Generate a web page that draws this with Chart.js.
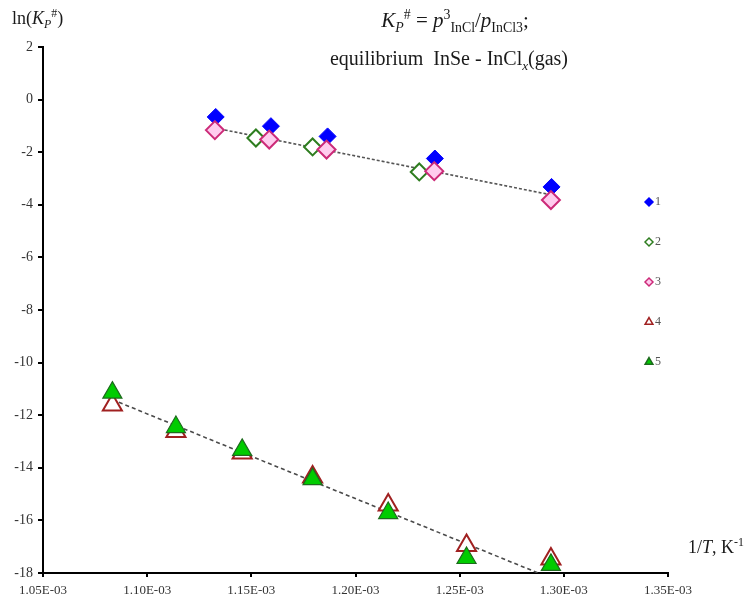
<!DOCTYPE html>
<html>
<head>
<meta charset="utf-8">
<script src="https://cdn.jsdelivr.net/npm/chart.js@4.4.1/dist/chart.umd.min.js"></script>
<style>
html, body { margin: 0; padding: 0; background: #fff; }
#wrap { width: 756px; height: 594px; position: relative; }
</style>
</head>
<body>
<div id="wrap"><canvas id="chart"></canvas></div>
<script>
// 1/T values (K^-1) and ln(Kp#)
const s1x = [1.1329e-3, 1.1594e-3, 1.1866e-3, 1.2381e-3, 1.2941e-3];
const s1y = [-0.66, -1.01, -1.40, -2.24, -3.32];
const s2x = [1.1522e-3, 1.1794e-3, 1.2306e-3];
const s2y = [-1.46, -1.80, -2.75];
const s3x = [1.1325e-3, 1.1586e-3, 1.1861e-3, 1.2378e-3, 1.2938e-3];
const s3y = [-1.16, -1.52, -1.90, -2.72, -3.82];
const s4x = [1.0833e-3, 1.1138e-3, 1.1456e-3, 1.1794e-3, 1.2157e-3, 1.2533e-3, 1.2938e-3];
const s4y = [-11.61, -12.62, -13.44, -14.35, -15.41, -16.95, -17.47];
const s5x = [1.0833e-3, 1.1138e-3, 1.1456e-3, 1.1794e-3, 1.2157e-3, 1.2533e-3, 1.2938e-3];
const s5y = [-11.14, -12.45, -13.32, -14.43, -15.72, -17.43, -17.69];
// dotted trend lines
const fit1x = [1.1325e-3, 1.2938e-3];
const fit1y = [-1.08, -3.62];
const fit2x = [1.0833e-3, 1.2877e-3];
const fit2y = [-11.41, -18.0];

const seriesNames = ['1', '2', '3', '4', '5'];
const xMin = 1.05e-3, xMax = 1.35e-3, xStep = 0.05e-3;
const yMin = -18, yMax = 2, yStep = 2;

const pts = (xs, ys) => xs.map((x, i) => ({ x: x, y: ys[i] }));

function fmtE(v) {
  const parts = v.toExponential(2).split('e');
  const n = parseInt(parts[1], 10);
  return parts[0] + 'E' + (n < 0 ? '-' : '+') + String(Math.abs(n)).padStart(2, '0');
}

const styles = [
  { pointStyle: 'rectRot', radius: 8.5, bg: '#0000ff', border: '#0000ff', bw: 1, order: 4 },
  { pointStyle: 'rectRot', radius: 8.5, bg: '#ffffff', border: '#2e7d1f', bw: 2, order: 3 },
  { pointStyle: 'rectRot', radius: 9, bg: '#ffccee', border: '#cc2a78', bw: 2, order: 1 },
  { pointStyle: 'triangle', radius: 11, bg: '#ffffff', border: '#a02020', bw: 2, order: 2 },
  { pointStyle: 'triangle', radius: 11, bg: '#00cc00', border: '#1d6b1d', bw: 1.2, order: 0 }
];

const seriesData = [pts(s1x, s1y), pts(s2x, s2y), pts(s3x, s3y), pts(s4x, s4y), pts(s5x, s5y)];

const datasets = seriesData.map((d, i) => ({
  label: seriesNames[i],
  data: d,
  showLine: false,
  pointStyle: styles[i].pointStyle,
  pointRadius: styles[i].radius,
  pointBackgroundColor: styles[i].bg,
  pointBorderColor: styles[i].border,
  pointBorderWidth: styles[i].bw,
  backgroundColor: styles[i].bg,
  borderColor: styles[i].border,
  order: styles[i].order,
  clip: false
}));

datasets.push({
  label: 'fit1', data: pts(fit1x, fit1y), showLine: true, pointRadius: 0,
  borderColor: '#555555', borderWidth: 1.6, borderDash: [3, 2], order: 6
});
datasets.push({
  label: 'fit2', data: pts(fit2x, fit2y), showLine: true, pointRadius: 0,
  borderColor: '#4a4a4a', borderWidth: 1.6, borderDash: [4, 3], order: 6
});

// draw runs of text with italics / sub / superscripts
function fontFor(r, size) {
  const sz = size * (r.scale || 1);
  return (r.italic ? 'italic ' : '') + sz + 'px "Liberation Serif", "DejaVu Serif", serif';
}
function richWidth(ctx, runs, size) {
  let w = 0;
  runs.forEach(r => {
    ctx.font = fontFor(r, size);
    w += ctx.measureText(r.t).width;
  });
  return w;
}
function drawRich(ctx, runs, x, y, size, align) {
  let cx = x;
  if (align === 'center') cx = x - richWidth(ctx, runs, size) / 2;
  ctx.textBaseline = 'alphabetic';
  ctx.textAlign = 'left';
  runs.forEach(r => {
    ctx.font = fontFor(r, size);
    ctx.fillText(r.t, cx, y + (r.dy || 0));
    cx += ctx.measureText(r.t).width;
  });
}

const textPlugin = {
  id: 'texts',
  afterDraw(chart) {
    const ctx = chart.ctx;
    ctx.save();
    ctx.fillStyle = '#1a1a1a';
    const sub = { scale: 0.66, dy: 5 };
    const sup = { scale: 0.66, dy: -8 };
    drawRich(ctx, [
      { t: 'K', italic: true },
      { t: 'P', italic: true, ...sub },
      { t: '#', ...sup },
      { t: ' = ' },
      { t: 'p', italic: true },
      { t: '3', ...sup },
      { t: 'InCl', ...sub },
      { t: '/' },
      { t: 'p', italic: true },
      { t: 'InCl3', ...sub },
      { t: ';' }
    ], 455, 27, 21, 'center');
    drawRich(ctx, [
      { t: 'equilibrium  InSe - InCl' },
      { t: 'x', italic: true, scale: 0.66, dy: 5 },
      { t: '(gas)' }
    ], 449, 65, 20, 'center');
    // axis titles
    drawRich(ctx, [
      { t: 'ln(' },
      { t: 'K', italic: true },
      { t: 'P', italic: true, scale: 0.66, dy: 4 },
      { t: '#', scale: 0.66, dy: -7 },
      { t: ')' }
    ], 12, 24, 18, 'left');
    drawRich(ctx, [
      { t: '1/' },
      { t: 'T', italic: true },
      { t: ', K' },
      { t: '-1', scale: 0.66, dy: -7 }
    ], 688, 553, 18, 'left');

    // legend
    const lx = 649, ly = 202, gap = 40;
    styles.forEach((s, i) => {
      const y = ly + i * gap;
      ctx.fillStyle = s.bg;
      ctx.strokeStyle = s.border;
      ctx.lineWidth = 1.5;
      Chart.helpers.drawPoint(ctx, {
        pointStyle: s.pointStyle,
        radius: s.pointStyle === 'triangle' ? 4.5 : 4,
        rotation: 0,
        borderWidth: 1.5
      }, lx, y);
      ctx.fillStyle = '#555555';
      ctx.font = '12px "Liberation Serif", serif';
      ctx.textAlign = 'left';
      ctx.textBaseline = 'middle';
      ctx.fillText(seriesNames[i], lx + 6, y);
    });
    ctx.restore();
  }
};

const chart = new Chart(document.getElementById('chart'), {
  type: 'scatter',
  data: { datasets: datasets },
  options: {
    responsive: true,
    maintainAspectRatio: false,
    animation: false,
    layout: { padding: { top: 47, right: 88, left: 0, bottom: 0 } },
    plugins: {
      legend: { display: false },
      tooltip: { enabled: false },
      title: { display: false }
    },
    scales: {
      x: {
        type: 'linear',
        min: xMin,
        max: xMax,
        afterFit: s => { s.height = 21; },
        border: { color: '#000', width: 2 },
        grid: { drawOnChartArea: false, drawTicks: true, tickLength: 4, color: '#000', lineWidth: 2 },
        ticks: {
          stepSize: xStep,
          padding: 6,
          maxRotation: 0,
          autoSkip: false,
          color: '#333',
          font: { family: '"Liberation Serif", serif', size: 13 },
          callback: v => fmtE(v)
        }
      },
      y: {
        type: 'linear',
        min: yMin,
        max: yMax,
        afterFit: s => { s.width = 43; },
        border: { color: '#000', width: 2 },
        grid: { drawOnChartArea: false, drawTicks: true, tickLength: 5, color: '#000', lineWidth: 2 },
        ticks: {
          stepSize: yStep,
          padding: 5,
          color: '#333',
          font: { family: '"Liberation Serif", serif', size: 14 }
        }
      }
    }
  },
  plugins: [textPlugin]
});
</script>
</body>
</html>
